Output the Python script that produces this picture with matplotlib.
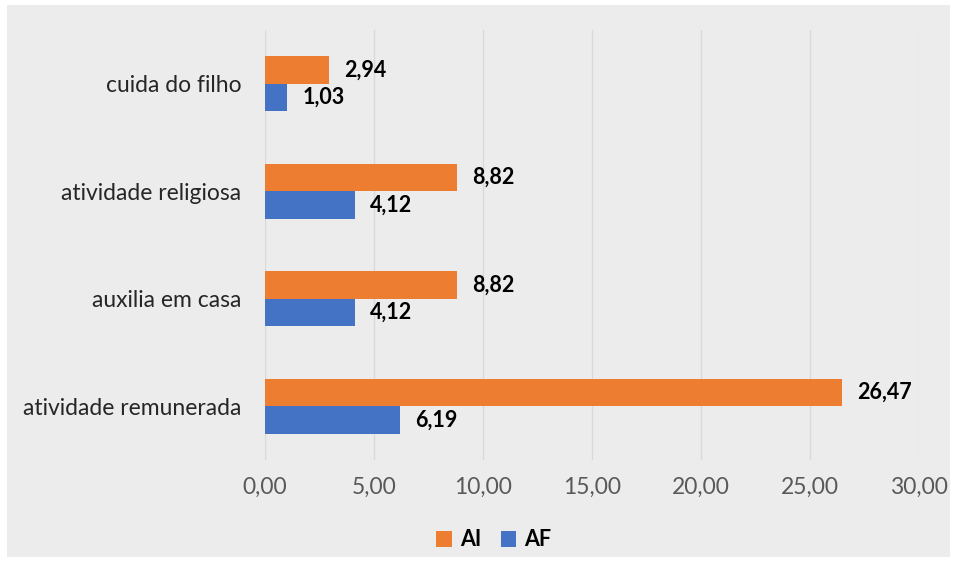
import matplotlib.pyplot as plt
from matplotlib.patches import Rectangle
import numpy as np

plt.rcParams['font.family'] = ['Lato', 'DejaVu Sans']

categorias = ['atividade remunerada', 'auxilia em casa', 'atividade religiosa', 'cuida do filho']
ai = [26.47, 8.82, 8.82, 2.94]
af = [6.19, 4.12, 4.12, 1.03]
xticks = [0, 5, 10, 15, 20, 25, 30]

cor_ai = '#ED7D31'
cor_af = '#4472C4'

fig = plt.figure(figsize=(9.57, 5.65), dpi=100)
fig.patch.set_facecolor('white')
# fundo cinza do gráfico
fundo = Rectangle((7/957, 8/565), 943/957, 552/565, transform=fig.transFigure,
                  facecolor='#ececec', edgecolor='none', zorder=-10)
fig.add_artist(fundo)

ax = fig.add_axes([265/957, 1 - 460/565, 654/957, 430/565])
ax.set_zorder(1)
ax.set_facecolor('#ececec')

y = np.arange(len(categorias))
h = 0.255
b1 = ax.barh(y + h/2, ai, height=h, color=cor_ai, label='AI', zorder=3)
b2 = ax.barh(y - h/2, af, height=h, color=cor_af, label='AF', zorder=3)

for bars in (b1, b2):
    for r in bars:
        v = r.get_width()
        ax.text(v + 0.7, r.get_y() + r.get_height()/2, f'{v:.2f}'.replace('.', ','),
                va='center', ha='left', fontsize=15.5, fontweight='bold', color='black')

ax.set_xlim(0, 30)
ax.set_ylim(-0.5, 3.5)
ax.set_xticks(xticks)
ax.set_xticklabels([f'{t:.2f}'.replace('.', ',') for t in xticks], fontsize=16.5, color='#595959')
ax.set_yticks(y)
ax.set_yticklabels(categorias, fontsize=16.5, color='#262626')
ax.tick_params(axis='both', length=0)
ax.tick_params(axis='x', pad=12)
ax.tick_params(axis='y', pad=17)
ax.grid(axis='x', color='#d9d9d9', linewidth=1.0, zorder=0)
for s in ax.spines.values():
    s.set_visible(False)

leg = fig.legend(handles=[b1, b2], labels=['AI', 'AF'], loc='center', bbox_to_anchor=(494/957, 1 - 540/565),
                 ncol=2, frameon=False, handlelength=0.7, handleheight=0.7, handletextpad=0.4,
                 columnspacing=0.9, prop={'size': 15.5, 'weight': 'bold'})

fig.savefig('out.png', dpi=100, facecolor=fig.get_facecolor())
